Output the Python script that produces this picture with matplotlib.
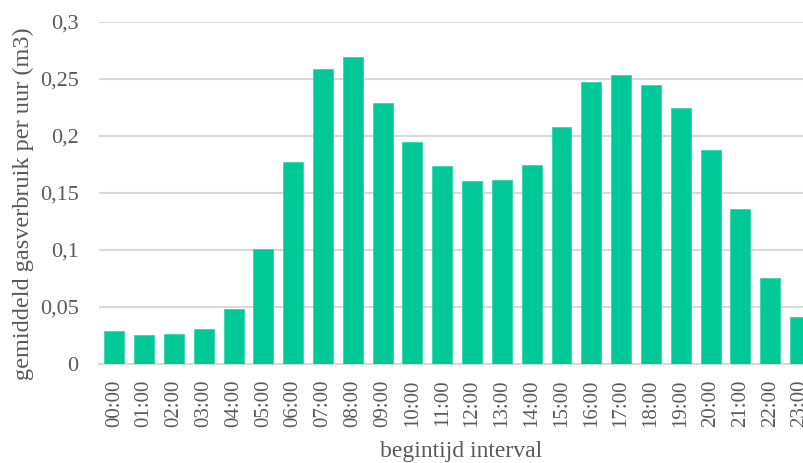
import matplotlib
matplotlib.use("Agg")
import matplotlib.pyplot as plt
from matplotlib.ticker import FuncFormatter

hours = [f"{h:02d}:00" for h in range(24)]
gas_per_hour = [0.0287, 0.0254, 0.0263, 0.0304, 0.0477, 0.1003, 0.1768, 0.2585,
                0.2688, 0.2289, 0.1947, 0.1734, 0.1603, 0.1614, 0.1746, 0.2079,
                0.2474, 0.2535, 0.2442, 0.2240, 0.1875, 0.1360, 0.0749, 0.0407]
y_ticks = [0, 0.05, 0.1, 0.15, 0.2, 0.25, 0.3]

BAR = "#00C997"
TEXT = "#595959"
GRID = "#D9D9D9"
FONT = ["Liberation Serif", "DejaVu Serif"]

W, H = 804, 463
fig = plt.figure(figsize=(W / 100, H / 100), dpi=100)
ax = fig.add_axes([0.1236, 0.2145, 0.89, 0.7387])

x = list(range(len(hours)))
ax.bar(x, gas_per_hour, width=0.67, color=BAR, edgecolor="#33D6AB",
       linewidth=0.6, zorder=3)

ax.set_xlim(-0.5, len(hours) - 0.5)
ax.set_ylim(0, 0.3)
ax.set_yticks(y_ticks)
ax.yaxis.set_major_formatter(FuncFormatter(
    lambda v, _: ("0" if v == 0 else f"{v:g}".replace(".", ","))))
ax.set_xticks(x)
ax.set_xticklabels(hours, rotation=90)

ax.grid(axis="y", color=GRID, linewidth=1.5, zorder=0)
for s in ["top", "right", "left"]:
    ax.spines[s].set_visible(False)
ax.spines["bottom"].set_color(GRID)
ax.spines["bottom"].set_linewidth(1.5)
ax.tick_params(axis="both", length=0, colors=TEXT)
ax.tick_params(axis="x", pad=11.5, labelsize=15)
ax.tick_params(axis="y", pad=15, labelsize=16)
for lab in ax.get_xticklabels() + ax.get_yticklabels():
    lab.set_family(FONT)

# axis titles placed in figure pixels
fig.text(23.5 / W, 1 - 204 / H, "gemiddeld gasverbruik per uur (m3)",
         rotation=90, ha="center", va="center", color=TEXT, fontsize=17.5,
         family=FONT)
fig.text(461 / W, (H - 457) / H, "begintijd interval", ha="center",
         va="baseline", color=TEXT, fontsize=17, family=FONT)

fig.savefig("out.png", dpi=100)
